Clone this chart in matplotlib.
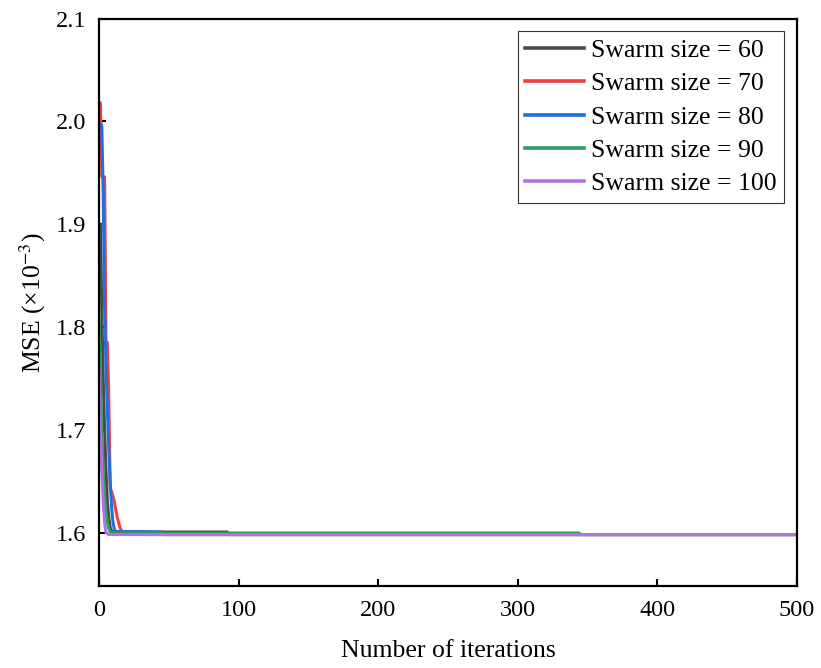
import matplotlib.pyplot as plt

plt.rcParams['font.family'] = ['Liberation Serif', 'DejaVu Serif']
plt.rcParams['mathtext.fontset'] = 'stix'
plt.rcParams['font.size'] = 18

# iteration breakpoints and MSE (x1e-3)
it_60 = [0, 1, 2, 3, 4, 5, 6, 7, 8, 9, 10, 92, 93, 500]
mse_60 = [1.900, 1.900, 1.814, 1.750, 1.700, 1.660, 1.630, 1.615, 1.605, 1.601, 1.6005, 1.6005, 1.598, 1.598]

it_70 = [0, 1, 2, 3, 4, 5, 6, 7, 8, 9, 10, 11, 12, 13, 14, 15, 16, 17, 30, 31, 500]
mse_70 = [2.018, 2.018, 1.946, 1.946, 1.946, 1.785, 1.785, 1.732, 1.642, 1.640, 1.635, 1.630,
          1.622, 1.615, 1.610, 1.605, 1.602, 1.601, 1.6005, 1.598, 1.598]

it_80 = [0, 1, 2, 3, 4, 5, 6, 7, 8, 9, 10, 11, 12, 45, 46, 500]
mse_80 = [1.996, 1.996, 1.996, 1.930, 1.820, 1.760, 1.720, 1.680, 1.650, 1.625, 1.610, 1.603,
          1.601, 1.6005, 1.598, 1.598]

it_90 = [0, 1, 2, 3, 4, 5, 6, 7, 8, 10, 344, 345, 500]
mse_90 = [1.815, 1.760, 1.700, 1.660, 1.635, 1.620, 1.610, 1.604, 1.601, 1.5995, 1.5995, 1.598, 1.598]

it_100 = [0, 1, 2, 3, 4, 5, 6, 7, 500]
mse_100 = [1.760, 1.700, 1.660, 1.630, 1.610, 1.600, 1.599, 1.598, 1.598]

labels = ['Swarm size = 60', 'Swarm size = 70', 'Swarm size = 80', 'Swarm size = 90', 'Swarm size = 100']
colors = ['#4a4a4a', '#f04040', '#2070e0', '#2e9e5e', '#b173e0']

fig = plt.figure(figsize=(8.21, 6.68), dpi=100)
ax = fig.add_axes([0.1206, 0.1228, 0.8502, 0.8495])

series = [(it_60, mse_60), (it_70, mse_70), (it_80, mse_80), (it_90, mse_90), (it_100, mse_100)]
for (x, y), lab, c in zip(series, labels, colors):
    ax.plot(x, y, color=c, lw=2.2, label=lab)

ax.set_xlim(0, 500)
ax.set_ylim(1.548, 2.1)
ax.set_xticks([0, 100, 200, 300, 400, 500])
ax.set_yticks([1.6, 1.7, 1.8, 1.9, 2.0, 2.1])
ax.yaxis.set_major_formatter(plt.FormatStrFormatter('%.1f'))
ax.tick_params(direction='in', length=5, width=1.5, labelsize=17.5)
ax.tick_params(axis='y', pad=9)
ax.tick_params(axis='x', pad=10)
for s in ax.spines.values():
    s.set_linewidth(1.6)
    s.set_color('black')

ax.set_xlabel('Number of iterations', fontsize=18.5, labelpad=14)
ax.set_ylabel('MSE (×10$^{-3}$)', fontsize=18.5, labelpad=6)

leg = ax.legend(loc='upper right', fontsize=18.5, fancybox=False, framealpha=1,
                edgecolor='#333333', handlelength=2.3, handletextpad=0.25,
                labelspacing=0.4, borderpad=0.3, borderaxespad=0.5)
leg.get_frame().set_linewidth(0.8)
for line in leg.get_lines():
    line.set_linewidth(2.6)

fig.savefig('out.png', dpi=100)
